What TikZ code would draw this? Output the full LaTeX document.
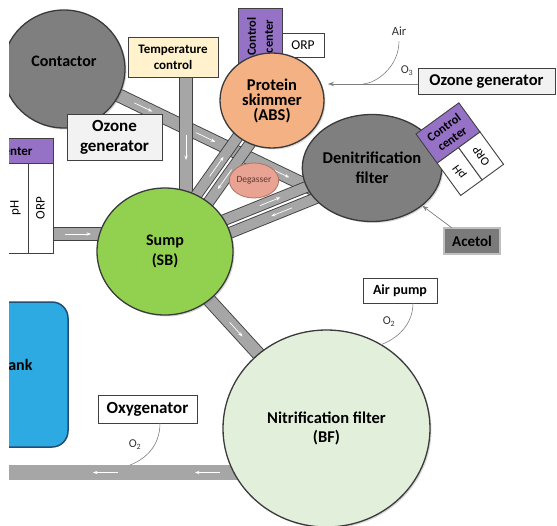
\documentclass[tikz,border=0pt]{standalone}
\usepackage{fontspec}
\setmainfont{Carlito}
\usetikzlibrary{calc,arrows.meta,shadows,shapes.geometric}
\pgfdeclarelayer{bg}
\pgfsetlayers{bg,main}
\definecolor{cgray}{HTML}{7F7F7F}
\definecolor{circline}{HTML}{3A3A3A}
\definecolor{boxline}{HTML}{404040}
\definecolor{tempfill}{HTML}{FFF2CC}
\definecolor{ozfill}{HTML}{F2F2F2}
\definecolor{purp}{HTML}{9672C6}
\definecolor{skimfill}{HTML}{F4B183}
\definecolor{sumpfill}{HTML}{92D050}
\definecolor{bffill}{HTML}{E2EFDA}
\definecolor{degfill}{HTML}{E9A393}
\definecolor{degline}{HTML}{B0705F}
\definecolor{degtext}{HTML}{5A3A32}
\definecolor{tankfill}{HTML}{2DAAE1}
\definecolor{tankline}{HTML}{1F4E79}
\definecolor{acfill}{HTML}{7A7A7A}
\definecolor{acline}{HTML}{BFBFBF}
\definecolor{pipegray}{HTML}{A6A6A6}
\definecolor{pipeline}{HTML}{404040}
\definecolor{arrowgray}{HTML}{7F7F7F}
\begin{document}
\begin{tikzpicture}[x=1pt,y=-1pt,
  every node/.style={inner sep=0pt, outer sep=0pt},
  box/.style={rectangle, draw=boxline, line width=0.9pt, align=center},
  shbox/.style={box, drop shadow={opacity=0.3,shadow xshift=1.2pt,shadow yshift=-1.2pt}},
  circ/.style={ellipse, draw=circline, line width=1.3pt, align=center,
    drop shadow={opacity=0.3,shadow xshift=1.5pt,shadow yshift=-1.5pt}},
  pipe/.style={draw=pipeline, line width=0.9pt, double=pipegray, double distance=12.2pt},
  dpipe/.style={draw=pipeline, line width=0.9pt, double=pipegray, double distance=10pt},
  bpipe/.style={draw=pipegray, line width=14.5pt},
  warrow/.style={draw=white, line width=0.7pt, -{Stealth[length=4.5pt,width=3.4pt]}},
  garrow/.style={draw=arrowgray, line width=0.7pt, -{Stealth[length=6pt,width=4.5pt]}},
  thinline/.style={draw=arrowgray, line width=0.6pt},
  bigb/.style={font=\bfseries\fontsize{16.5}{20}\selectfont},
]
\useasboundingbox (0,0) rectangle (557,525);
\clip (9,0) rectangle (557,525);

% left side: tank and control group
\node[rectangle, rounded corners=16pt, draw=tankline, fill=tankfill, line width=1.5pt,
  minimum width=128pt, minimum height=145pt] (tank) at (4,374.5) {};
\node[anchor=east, font=\bfseries\fontsize{16}{19}\selectfont\addfontfeatures{Kerning=Off}] (tanktxt) at (32.5,365) {Tank};
\node[box, fill=purp, minimum width=110pt, minimum height=25pt] (ccL) at (-2,150.5) {};
\node[anchor=east, font=\bfseries\fontsize{13}{15}\selectfont] (ccLtxt) at (32.5,150.5) {Control center};
\node[box, fill=white, rotate=90, minimum width=90pt, minimum height=25pt,
  font=\fontsize{13}{15}\selectfont] (phL) at (15.5,208) {pH};
\node[box, fill=white, rotate=90, minimum width=90pt, minimum height=25pt,
  font=\fontsize{13}{15}\selectfont] (orpL) at (40.5,208) {ORP};

% contactor
\node[circ, fill=cgray, minimum width=122pt, minimum height=118pt] (contactor) at (64,69) {};
\node[font=\bfseries\fontsize{16}{19}\selectfont] (contactorlbl) at (64,61) {Contactor};

% temperature control
\node[shbox, fill=tempfill, minimum width=90pt, minimum height=40pt,
  font=\bfseries\fontsize{13}{16}\selectfont] (temp) at (173,57) {Temperature\\control};

% skimmer control center and ORP
\node[box, fill=purp, rotate=90, minimum width=57pt, minimum height=44pt,
  font=\bfseries\fontsize{12.5}{17}\selectfont] (ccskim) at (260,36.5) {Control\\center};
\node[box, fill=white, minimum width=42pt, minimum height=24pt,
  font=\fontsize{13.5}{16}\selectfont] (orpskim) at (303,45) {ORP};

% protein skimmer
\node[circ, fill=skimfill, minimum width=104pt, minimum height=95pt,
  font=\bfseries\fontsize{16.5}{15}\selectfont] (skim) at (272,100.5) {Protein\\skimmer\\(ABS)};

% ozone generator left
\node[shbox, fill=ozfill, minimum width=95pt, minimum height=46pt,
  font=\bfseries\fontsize{17}{20}\selectfont] (ozoneL) at (114.5,137) {Ozone\\generator};

% denitrification filter
\node[circ, fill=cgray, minimum width=111pt, minimum height=107pt, bigb] (denit) at (372,168) {Denitrification\\filter};

% tilted control group
\begin{scope}[shift={(416,134)}, rotate=36, transform shape]
\node[box, fill=purp, minimum width=53pt, minimum height=36pt,
  font=\bfseries\fontsize{12.5}{14}\selectfont] (ccden) at (26.5,18) {Control\\center};
\node[box, fill=white, rotate=90, minimum width=40pt, minimum height=26.5pt,
  font=\fontsize{12}{14}\selectfont] (phden) at (13.25,56) {pH};
\node[box, fill=white, rotate=90, minimum width=40pt, minimum height=26.5pt,
  font=\fontsize{12}{14}\selectfont] (orpden) at (39.75,56) {ORP};
\end{scope}

% degasser
\node[ellipse, draw=degline, fill=degfill, line width=0.8pt, minimum width=40pt, minimum height=35pt,
  font=\fontsize{9.5}{11}\selectfont, text=degtext] (degas) at (254,180.5) {Degasser};

% sump
\node[circ, fill=sumpfill, minimum width=136pt, minimum height=127pt,
  font=\bfseries\fontsize{16}{20}\selectfont] (sump) at (165,251.5) {Sump\\(SB)};

% nitrification filter
\node[circ, fill=bffill, minimum width=207pt, minimum height=197pt,
  font=\bfseries\fontsize{16.5}{19}\selectfont] (bf) at (326.5,428.5) {Nitrification filter\\(BF)};

% other boxes
\node[shbox, fill=ozfill, minimum width=137pt, minimum height=26pt, bigb] (ozoneR) at (486.5,81) {Ozone generator};
\node[rectangle, fill=acfill, draw=acline, line width=1.5pt, minimum width=56pt, minimum height=26pt,
  font=\bfseries\fontsize{15}{18}\selectfont] (acetol) at (472,241) {Acetol};
\node[box, fill=white, minimum width=74pt, minimum height=25pt,
  font=\bfseries\fontsize{14}{16}\selectfont] (airpump) at (400,290.5) {Air pump};
\node[box, fill=white, minimum width=99pt, minimum height=28pt,
  font=\bfseries\fontsize{17}{20}\selectfont] (oxy) at (147.5,409) {Oxygenator};

% small labels
\node[font=\fontsize{12.5}{14}\selectfont, text=black!80] (airtxt) at (399,31) {Air};
\node[font=\fontsize{12}{14}\selectfont, text=black!80] (o3txt) at (407,71) {O\textsubscript{3}};
\node[font=\fontsize{12}{14}\selectfont, text=black!80] (o2bf) at (389,322) {O\textsubscript{2}};
\node[font=\fontsize{12}{14}\selectfont, text=black!80] (o2oxy) at (135,445) {O\textsubscript{2}};

% thin connectors
\coordinate (o3tip) at (328,84);
\coordinate (o3join) at (363,84);
\coordinate (oxyjoin) at (130,465);
\draw[garrow] ([yshift=-3pt]ozoneR.west) -- (o3tip);
\draw[thinline] ([yshift=-6pt]airtxt.south) .. controls +(0,25) and +(14,-1) .. (o3join);
\draw[garrow, shorten >=63pt] ([xshift=8pt]acetol.north west) -- (denit.center);
\draw[thinline] ([xshift=13pt]airpump.south) .. controls +(0,22) and +(16,-6) .. (bf.57);
\draw[thinline] ([xshift=12.5pt]oxy.south) .. controls +(0,25) and +(13,-5) .. (oxyjoin);

% pipes on background layer
\begin{pgfonlayer}{bg}
\coordinate (cpA) at (contactor.center);
\coordinate (cpB) at (denit.195);
\draw[pipe] (cpA) -- ($(cpA)!1.08!(cpB)$);
\coordinate (tp) at ([xshift=13pt]temp.south);
\draw[pipe] (tp) -- (tp |- sump.center);
\coordinate (lp) at ([yshift=-26pt]orpL.south);
\draw[pipe] (lp) -- (lp -| sump.center);
\draw[pipe] (sump.center) -- (bf.center);
\coordinate (outl) at (9,472.5);
\draw[bpipe] (bf.center |- outl) -- (outl);
% double pipes sump - skimmer
\coordinate (ssA1) at ($(sump.center)!7pt!90:(skim.center)$);
\coordinate (ssB1) at ($(skim.center)!7pt!-90:(sump.center)$);
\coordinate (ssA2) at ($(sump.center)!7pt!-90:(skim.center)$);
\coordinate (ssB2) at ($(skim.center)!7pt!90:(sump.center)$);
\draw[dpipe] (ssA1) -- (ssB1);
\draw[dpipe] (ssA2) -- (ssB2);
% double pipes sump - denitrification
\coordinate (sdA1) at ($(sump.center)!7pt!90:(denit.center)$);
\coordinate (sdB1) at ($(denit.center)!7pt!-90:(sump.center)$);
\coordinate (sdA2) at ($(sump.center)!7pt!-90:(denit.center)$);
\coordinate (sdB2) at ($(denit.center)!7pt!90:(sump.center)$);
\draw[dpipe] (sdA1) -- (sdB1);
\draw[dpipe] (sdA2) -- (sdB2);
% flow arrows
\draw[warrow] ($(cpA)!0.29!(cpB)$) -- ($(cpA)!0.365!(cpB)$);
\draw[warrow] ($(cpA)!0.545!(cpB)$) -- ($(cpA)!0.625!(cpB)$);
\draw[warrow] ($(cpA)!0.85!(cpB)$) -- ($(cpA)!0.93!(cpB)$);
\draw[warrow] ([yshift=-58pt]tp) -- ([yshift=-83pt]tp);
\draw[warrow] ([xshift=12pt]lp) -- ([xshift=38pt]lp);
\draw[warrow] ($(sump.center)!0.40!(bf.center)$) -- ($(sump.center)!0.48!(bf.center)$);
\draw[warrow] ([xshift=211pt]outl) -- ([xshift=186pt]outl);
\draw[warrow] ([xshift=109pt]outl) -- ([xshift=84pt]outl);
\draw[warrow] ($(ssA1)!0.47!(ssB1)$) -- ($(ssA1)!0.60!(ssB1)$);
\draw[warrow] ($(ssA2)!0.57!(ssB2)$) -- ($(ssA2)!0.44!(ssB2)$);
\draw[warrow] ($(sdA1)!0.47!(sdB1)$) -- ($(sdA1)!0.57!(sdB1)$);
\draw[warrow] ($(sdA2)!0.60!(sdB2)$) -- ($(sdA2)!0.50!(sdB2)$);
\end{pgfonlayer}
\end{tikzpicture}
\end{document}
